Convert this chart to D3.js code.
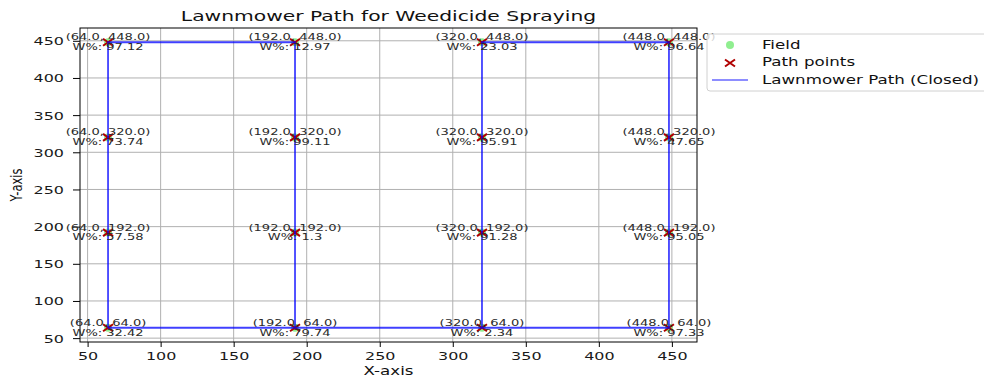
<!DOCTYPE html>
<html>
<head>
<meta charset="utf-8">
<script src="https://cdn.jsdelivr.net/npm/d3@7"></script>
<style>
  html, body { margin: 0; padding: 0; background: #fff; }
  svg { display: block; font-family: "DejaVu Sans", sans-serif; }
</style>
</head>
<body>
<svg id="chart" width="984" height="378"></svg>
<script>
// ---- data ----
const pointX = [64, 64, 64, 64, 192, 192, 192, 192, 320, 320, 320, 320, 448, 448, 448, 448];
const pointY = [64, 192, 320, 448, 64, 192, 320, 448, 64, 192, 320, 448, 64, 192, 320, 448];
const weedPct = [32.42, 57.58, 73.74, 97.12, 79.74, 1.3, 99.11, 12.97, 2.34, 91.28, 95.91, 23.03, 97.33, 95.05, 47.65, 96.64];
const pathX = [64, 64, 192, 192, 320, 320, 448, 448, 64];
const pathY = [64, 448, 448, 64, 64, 448, 448, 64, 64];
const xTicks = [50, 100, 150, 200, 250, 300, 350, 400, 450];
const yTicks = [50, 100, 150, 200, 250, 300, 350, 400, 450];
const xDomain = [44.8, 467.2];
const yDomain = [44.8, 467.2];
const legendLabels = ["Field", "Path points", "Lawnmower Path (Closed)"];
const titleText = "Lawnmower Path for Weedicide Spraying";

// ---- layout ----
const S = 1.45; // horizontal text stretch of the reference
const L = 80, R = 697, T = 28, B = 342;
const svg = d3.select("#chart");
const x = d3.scaleLinear().domain(xDomain).range([L, R]);
const y = d3.scaleLinear().domain(yDomain).range([B, T]);

function stext(parent, px, py, str, size, anchor, fill) {
  return parent.append("text")
    .attr("transform", `translate(${px},${py}) scale(${S},1)`)
    .attr("text-anchor", anchor || "middle")
    .style("font-size", size + "px")
    .attr("fill", fill || "#000")
    .text(str);
}

// grid
const grid = svg.append("g");
grid.selectAll("line.gx").data(xTicks).join("line")
  .attr("x1", d => x(d)).attr("x2", d => x(d)).attr("y1", T).attr("y2", B)
  .attr("stroke", "#b0b0b0").attr("stroke-width", 1);
grid.selectAll("line.gy").data(yTicks).join("line")
  .attr("y1", d => y(d)).attr("y2", d => y(d)).attr("x1", L).attr("x2", R)
  .attr("stroke", "#b0b0b0").attr("stroke-width", 1);

// axes
const xAxis = svg.append("g").attr("transform", `translate(0,${B})`)
  .call(d3.axisBottom(x).tickValues(xTicks).tickSize(5).tickPadding(4).tickFormat(d3.format("d")));
const yAxis = svg.append("g").attr("transform", `translate(${L},0)`)
  .call(d3.axisLeft(y).tickValues(yTicks).tickSize(7).tickPadding(3).tickFormat(d3.format("d")));
[xAxis, yAxis].forEach(a => {
  a.select(".domain").remove();
  a.selectAll(".tick line").attr("stroke", "#000").attr("stroke-width", 1);
  a.selectAll(".tick text").style("font-size", "11px").style("font-family", "DejaVu Sans").attr("fill", "#1a1a1a");
});
xAxis.selectAll(".tick text").attr("dy", null).attr("y", 0)
  .attr("transform", `translate(0,18) scale(${S},1)`);
yAxis.selectAll(".tick text").attr("x", 0).attr("dy", null)
  .attr("transform", `translate(-16,4) scale(${S},1)`);

// frame
svg.append("rect").attr("x", L).attr("y", T).attr("width", R - L).attr("height", B - T)
  .attr("fill", "none").attr("stroke", "#000").attr("stroke-width", 1);

const pts = pointX.map((px, i) => ({ x: px, y: pointY[i], w: weedPct[i] }));

// field points
svg.append("g").selectAll("circle").data(pts).join("circle")
  .attr("cx", d => x(d.x)).attr("cy", d => y(d.y)).attr("r", 4)
  .attr("fill", "#90ee90");

// path points (x markers)
function crossPath(cx, cy, hw, hh) {
  return `M${cx - hw},${cy - hh}L${cx + hw},${cy + hh}M${cx - hw},${cy + hh}L${cx + hw},${cy - hh}`;
}
svg.append("g").selectAll("path").data(pts).join("path")
  .attr("d", d => crossPath(x(d.x), y(d.y), 5, 3.5))
  .attr("stroke", "#b00000").attr("stroke-width", 2).attr("fill", "none");

// lawnmower path
const line = d3.line().x(d => x(d[0])).y(d => y(d[1]));
svg.append("path").datum(pathX.map((px, i) => [px, pathY[i]]))
  .attr("d", line).attr("fill", "none").attr("stroke", "blue")
  .attr("stroke-opacity", 0.75).attr("stroke-width", 1.8);

// annotations
const ann = svg.append("g");
pts.forEach(d => {
  stext(ann, x(d.x), y(d.y) - 2, `(${d.x.toFixed(1)}, ${d.y.toFixed(1)})`, 9, "middle", "#2a2a2a");
  stext(ann, x(d.x), y(d.y) + 7.8, `W%: ${d.w}`, 9, "middle", "#2a2a2a");
});

// title and axis labels
stext(svg, (L + R) / 2, 21, titleText, 14, "middle", "#111");
stext(svg, (L + R) / 2, 375, "X-axis", 11.5, "middle", "#111");
svg.append("text")
  .attr("transform", `translate(22,${(T + B) / 2}) scale(${S},1) rotate(-90)`)
  .attr("text-anchor", "middle").style("font-size", "11.5px").attr("fill", "#111")
  .text("Y-axis");

// legend
const lg = svg.append("g");
lg.append("rect").attr("x", 707).attr("y", 34).attr("width", 290).attr("height", 57)
  .attr("rx", 3).attr("fill", "#fff").attr("fill-opacity", 0.8)
  .attr("stroke", "#d0d0d0").attr("stroke-width", 1);
lg.append("circle").attr("cx", 730).attr("cy", 45).attr("r", 4).attr("fill", "#90ee90");
lg.append("path").attr("d", crossPath(730, 63, 5, 3.5))
  .attr("stroke", "#b00000").attr("stroke-width", 2).attr("fill", "none");
lg.append("line").attr("x1", 712).attr("x2", 748).attr("y1", 80).attr("y2", 80)
  .attr("stroke", "blue").attr("stroke-opacity", 0.6).attr("stroke-width", 1.6);
const legY = [49, 66, 84];
legendLabels.forEach((t, i) => stext(lg, 762, legY[i], t, 11.5, "start", "#111"));
</script>
</body>
</html>
